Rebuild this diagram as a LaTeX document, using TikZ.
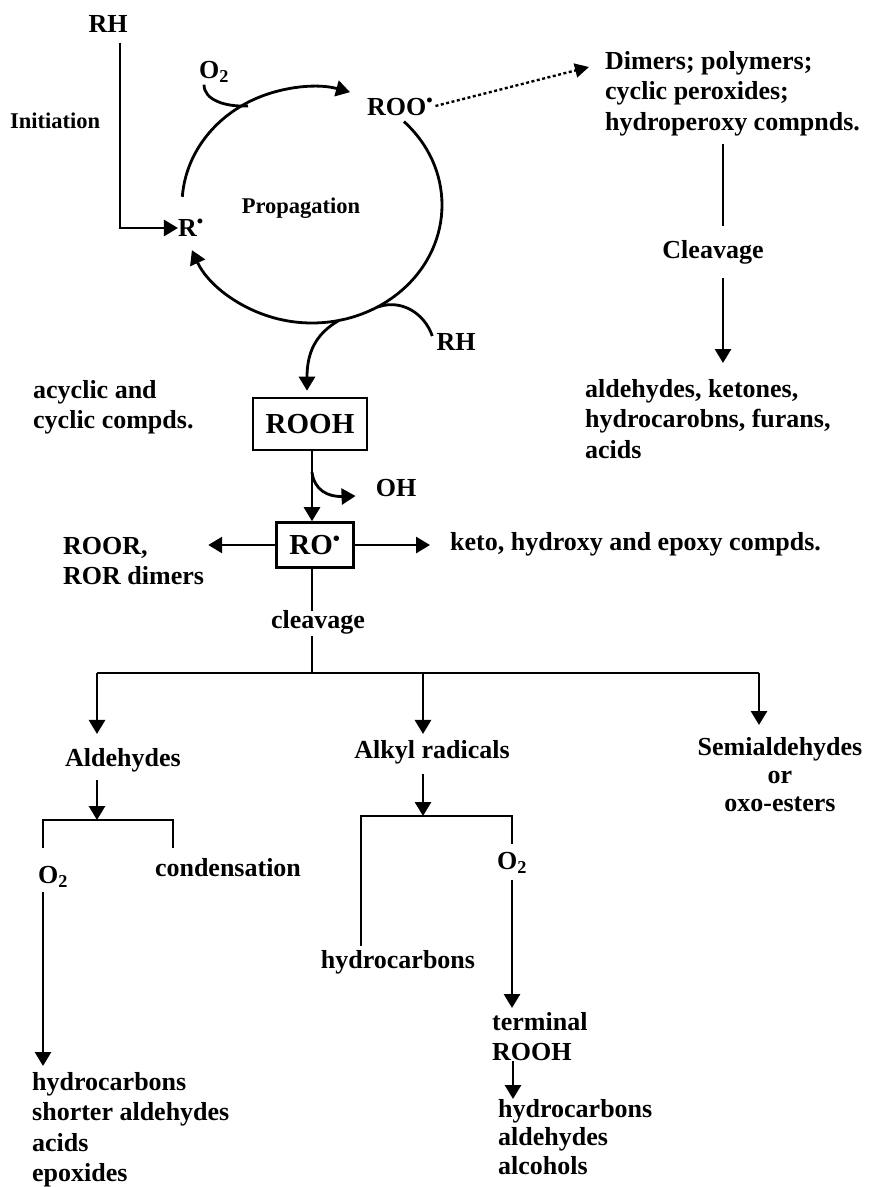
\documentclass[tikz,border=0pt]{standalone}
\usepackage{fontspec}
\setmainfont{Liberation Serif}
\usetikzlibrary{arrows.meta,calc}
\begin{document}
\begin{tikzpicture}[x=1pt,y=-1pt,
  txt/.style={font=\bfseries\fontsize{26}{30.5}\selectfont, inner sep=0pt},
  sm/.style={font=\bfseries\fontsize{22.5}{26}\selectfont, inner sep=0pt},
  big/.style={font=\bfseries\fontsize{29}{33}\selectfont, inner sep=0pt},
  boxed/.style={draw, line width=2.6pt, inner sep=0pt},
  ln/.style={line width=2.8pt},
  arr/.style={line width=2.8pt, -{Triangle[length=14pt,width=16pt]}},
  dotarr/.style={line width=2.4pt, dash pattern=on 3pt off 2.5pt, -{Triangle[length=14pt,width=14pt]}}]
\useasboundingbox (0,0) rectangle (870,1187);
\fill[white] (0,0) rectangle (870,1187);

% ---------- top cycle ----------
\node[txt] (rh1) at (108,24) {RH};
\node[sm, anchor=west] (init) at (10,121) {Initiation};
\node[txt] (R) at (191,228) {R\textsuperscript{\textbullet}};
\node[sm] (prop) at (301,208) {Propagation};
\node[txt] (o2a) at (214,72) {O\textsubscript{2}};
\node[txt, anchor=west] (roo) at (367,107) {ROO\textsuperscript{\textbullet}};
\node[txt] (rh2) at (456,342) {RH};

\coordinate (cc) at (312,205);
\coordinate (ic) at (120,0);
% initiation
\draw[arr] (rh1.south -| ic) ++(0,10) |- (R.west);
% cycle arcs (visual angles negated because y is flipped)
\draw[arr] ($(cc)+(-176:130 and 118)$) arc[start angle=-176, end angle=-73, x radius=130, y radius=118];
\draw[arr] ($(cc)+(-45:130 and 118)$) arc[start angle=-45, end angle=157.5, x radius=130, y radius=118];
% O2 in
\draw[ln] (o2a.south) ++(-10,2) .. controls (204,100) and (225,107) .. (248,106);
% RH in
\draw[ln] (378,307) .. controls (400,299) and (424,312) .. ($(rh2.west)+(-4,-6)$);

% dotted to dimers
\node[txt, anchor=north west, align=left] (dim) at (605,51) {Dimers; polymers;\\cyclic peroxides;\\hydroperoxy compnds.};
\draw[dotarr] ($(roo.east)+(2,-1)$) -- (589,67);

\coordinate (cx) at (723,0);
\node[txt] (clv) at (713,252) {Cleavage};
\draw[ln] ($(dim.south -| cx)+(0,8)$) -- ($(clv.north -| cx)+(0,-14)$);
\node[txt, anchor=north west, align=left] (ald1) at (585,379) {aldehydes, ketones,\\hydrocarobns, furans,\\acids};
\draw[arr] ($(clv.south -| cx)+(0,14)$) -- ($(ald1.north -| cx)+(0,-16)$);

% ---------- ROOH ----------
\node[txt, anchor=north west, align=left] (acy) at (33,380) {acyclic and\\cyclic compds.};
\node[big, boxed, minimum width=114pt, minimum height=52pt] (rooh) at (310,424) {ROOH};
\draw[arr] (338,321) .. controls (316,334) and (307,352) .. ($(rooh.north -| 307,0)+(0,-6)$);

\node[big, boxed, minimum width=77pt, minimum height=45pt] (ro) at (315,545) {RO\textsuperscript{\textbullet}};
\coordinate (vx) at (312,0);
\draw[arr] (rooh.south -| vx) -- (ro.north -| vx);
\node[txt] (oh) at (396,488) {OH};
\draw[arr] (312,472) .. controls (314,490) and (328,497) .. ($(oh.west)+(-20,8)$);

\node[txt, anchor=north west, align=left] (roor) at (63,537) {ROOR,\\ROR dimers};
\draw[arr] (ro.west) -- ($(ro.west -| roor.east)+(4,0)$);
\node[txt, anchor=west] (keto) at (450,544) {keto, hydroxy and epoxy compds.};
\draw[arr] (ro.east) -- ($(ro.east -| keto.west)+(-20,0)$);

% ---------- cleavage tree ----------
\node[txt] (clv2) at (318,622) {cleavage};
\draw[ln] (ro.south -| vx) -- ($(clv2.north -| vx)+(0,1)$);
\coordinate (bar) at (312,673);
\draw[ln] ($(clv2.south -| vx)+(0,2)$) -- (bar);

\node[txt] (alde) at (123,760) {Aldehydes};
\node[txt] (alk) at (432,752) {Alkyl radicals};
\node[txt, anchor=north, align=center, font=\bfseries\fontsize{26}{28}\selectfont] (semi) at (780,737) {Semialdehydes\\or\\oxo-esters};

\coordinate (ax) at (97,0);
\coordinate (kx) at (423,0);
\coordinate (sx) at (759,0);
\draw[ln] (ax |- bar) -- (sx |- bar);
\draw[arr] (ax |- bar) -- ($(alde.north -| ax)+(0,-14)$);
\draw[arr] (kx |- bar) -- ($(alk.north -| kx)+(0,-6)$);
\draw[arr] (sx |- bar) -- ($(semi.north -| sx)+(0,-12)$);

% aldehydes branch
\node[txt] (o2b) at (53,877) {O\textsubscript{2}};
\node[txt] (cond) at (228,868) {condensation};
\coordinate (abr) at (97,820);
\draw[arr] ($(alde.south -| ax)+(0,8)$) -- (abr);
\draw[ln] (43,848) |- (abr) -| (173,848);
\node[txt, anchor=north west, align=left] (hc1) at (32,1072) {hydrocarbons\\shorter aldehydes\\acids\\epoxides};
\draw[arr] ($(o2b.south -| 43,0)+(0,4)$) -- ($(hc1.north -| 43,0)+(0,-6)$);

% alkyl branch
\node[txt] (o2c) at (512,863) {O\textsubscript{2}};
\node[txt] (hc2) at (398,962) {hydrocarbons};
\coordinate (kbr) at (423,816);
\draw[arr] ($(alk.south -| kx)+(0,10)$) -- (kbr);
\draw[ln] ($(hc2.north -| 361,0)+(0,-4)$) |- (kbr) -| ($(o2c.north -| 512,0)+(0,-8)$);
\node[txt, anchor=north west, align=left] (term) at (492,1012) {terminal\\ROOH};
\draw[arr] ($(o2c.south -| 512,0)+(0,6)$) -- ($(term.north -| 512,0)+(0,-4)$);
\node[txt, anchor=north west, align=left, font=\bfseries\fontsize{26}{28.5}\selectfont] (hc3) at (498,1099) {hydrocarbons\\aldehydes\\alcohols};
\draw[arr] (term.south -| 513,0) -- (hc3.north -| 513,0);
\end{tikzpicture}
\end{document}
